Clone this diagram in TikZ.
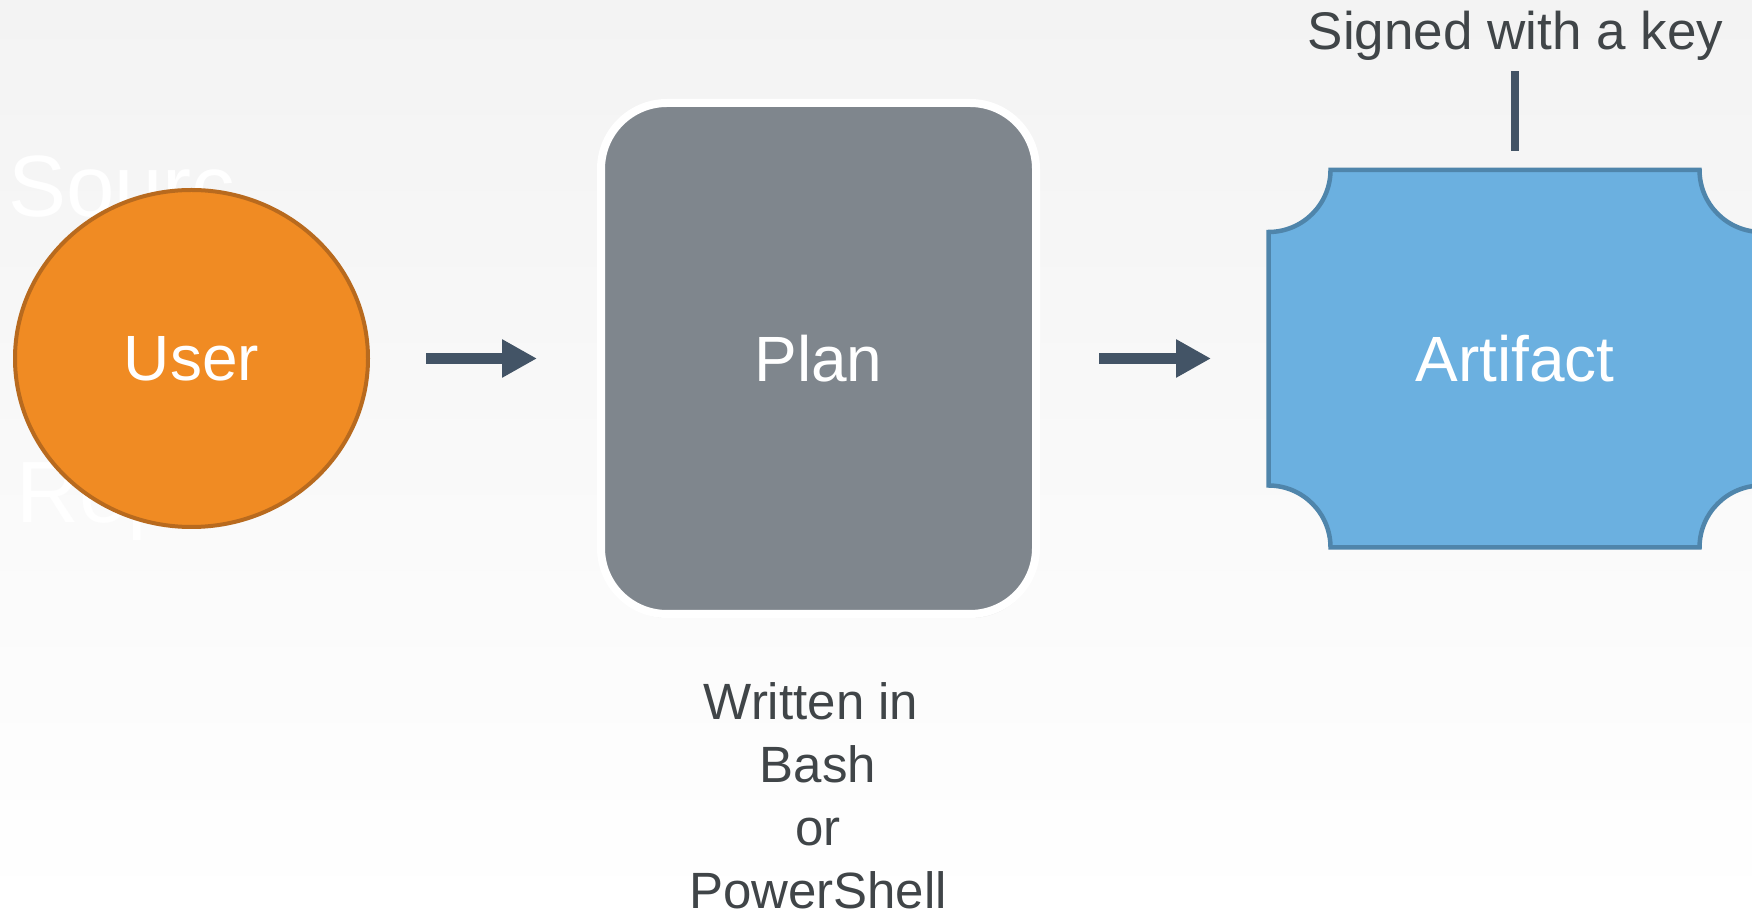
\documentclass[tikz,border=0pt]{standalone}
\usepackage{fontspec}
\setmainfont{Liberation Sans}
\usetikzlibrary{arrows.meta,shapes.geometric,shadows}
\definecolor{bgtop}{HTML}{F3F3F3}
\definecolor{userfill}{HTML}{F08B23}
\definecolor{userdraw}{HTML}{B86A1E}
\definecolor{planfill}{HTML}{7F868D}
\definecolor{artfill}{HTML}{6BB0E0}
\definecolor{artdraw}{HTML}{4F85AB}
\definecolor{arrowcol}{HTML}{435466}
\definecolor{txtcol}{HTML}{404548}
\begin{document}
\begin{tikzpicture}[x=1pt,y=1pt,
  bigtext/.style={text=white,font=\fontsize{64}{77}\selectfont},
  faint/.style={anchor=base west,text=white,inner sep=0pt,font=\fontsize{87}{100}\selectfont},
  conn/.style={draw=arrowcol,line width=11pt,-{Triangle[length=35pt,width=36pt]}},
  darktext/.style={text=txtcol,inner sep=0pt}]
\clip (0,0) rectangle (1752,913);
\shade[top color=bgtop,bottom color=white] (0,0) rectangle (1752,913);
% faint background text
\begin{scope}
  \clip (0,0) rectangle (233,913);
  \node[faint] (srcA) at (8,696) {Source};
  \node[faint] (srcB) at (16,390) {Repo};
\end{scope}
% User
\node[ellipse, fill=userfill, draw=userdraw, line width=4pt,
      minimum width=353pt, minimum height=337pt, inner sep=0pt, outer sep=0pt,
      bigtext] (user) at (191.5,554.5) {User};
% Plan
\node[rectangle, rounded corners=66pt, fill=planfill, draw=white, line width=8pt,
      minimum width=435pt, minimum height=511pt, inner sep=0pt, outer sep=0pt,
      drop shadow={shadow xshift=1pt, shadow yshift=-4pt, opacity=0.15},
      bigtext] (plan) at (818.5,554.5) {Plan};
% Artifact
\node[rectangle, minimum width=493pt, minimum height=377.5pt, inner sep=0pt, outer sep=0pt] (artbox) at (1515,554.25) {};
\draw[fill=artfill, draw=artdraw, line width=4.5pt]
  ([xshift=62pt]artbox.north west) -- ([xshift=-62pt]artbox.north east)
  arc[start angle=180, end angle=270, radius=62pt]
  -- ([yshift=62pt]artbox.south east)
  arc[start angle=90, end angle=180, radius=62pt]
  -- ([xshift=62pt]artbox.south west)
  arc[start angle=0, end angle=90, radius=62pt]
  -- ([yshift=-62pt]artbox.north west)
  arc[start angle=270, end angle=360, radius=62pt] -- cycle;
\node[bigtext] (art) at (artbox.center) {Artifact};
% arrows
\draw[conn, shorten <=58pt, shorten >=64pt] (user.east) -- (user.east -| plan.west);
\draw[conn, shorten <=63pt, shorten >=57.5pt] (plan.east |- user.east) -- (user.east -| artbox.west);
% signed with a key
\node[darktext, anchor=base, font=\fontsize{53}{64}\selectfont] (signed) at (1515.5,863) {Signed with a key};
\draw[arrowcol, line width=8pt, shorten <=10pt, shorten >=19pt] (signed.south -| artbox.north) -- (artbox.north);
% written in
\node[darktext, align=center, anchor=base, font=\fontsize{51}{63}\selectfont] (written) at (818,5)
  {Written in\kern14pt\\Bash\\or\\PowerShell};
\end{tikzpicture}
\end{document}
